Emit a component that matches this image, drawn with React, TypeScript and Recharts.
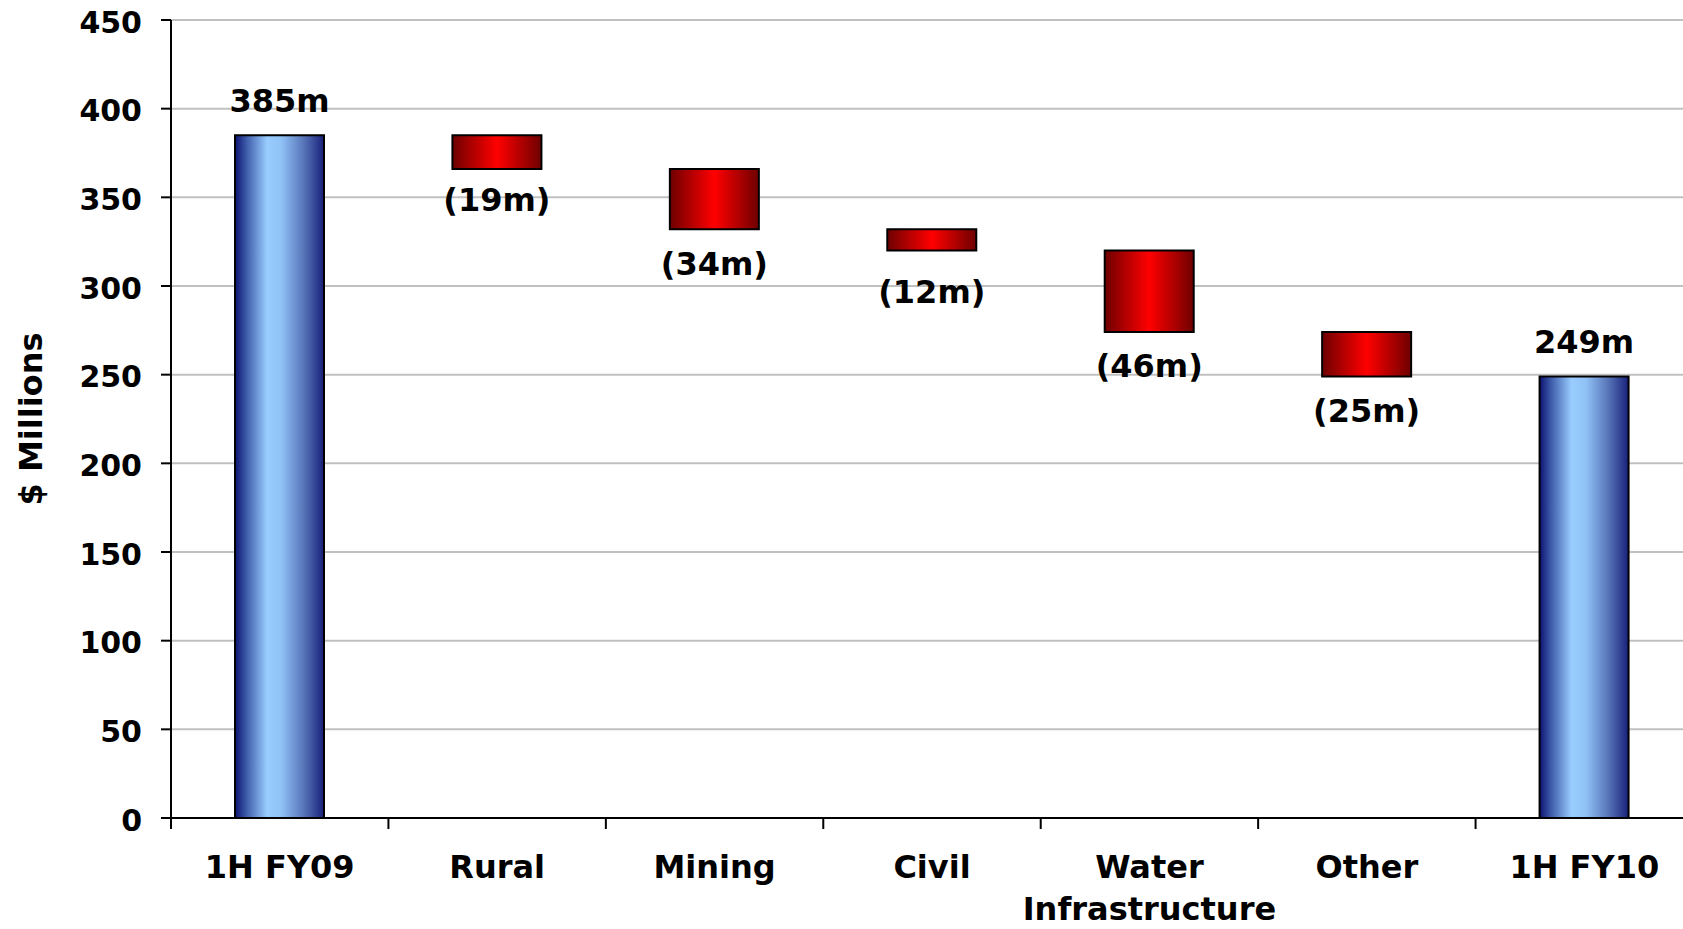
import React from 'react';
import { BarChart, Bar, XAxis, YAxis, CartesianGrid, LabelList, Cell, Label } from 'recharts';

// Revenue bridge, $ millions
const categories = ['1H FY09', 'Rural', 'Mining', 'Civil', 'Water\nInfrastructure', 'Other', '1H FY10'];
const openingTotal = 385;
const closingTotal = 249;
const segmentChanges = [-19, -34, -12, -46, -25]; // Rural, Mining, Civil, Water Infrastructure, Other
const yTicks = [0, 50, 100, 150, 200, 250, 300, 350, 400, 450];

// extra downward nudge (px) for each value label, by category
const labelNudge = [0, 0, 4, 10, 3, 4, 0];

type Row = { name: string; base: number; amount: number; kind: 'total' | 'change'; signed: number };

const rows: Row[] = [];
{
  let level = openingTotal;
  rows.push({ name: categories[0], base: 0, amount: openingTotal, kind: 'total', signed: openingTotal });
  segmentChanges.forEach((c, i) => {
    const next = level + c;
    rows.push({ name: categories[i + 1], base: Math.min(level, next), amount: Math.abs(c), kind: 'change', signed: c });
    level = next;
  });
  rows.push({ name: categories[categories.length - 1], base: 0, amount: closingTotal, kind: 'total', signed: closingTotal });
}

const FONT = '"DejaVu Sans", Verdana, sans-serif';
const CHART_W = 1720;
const CHART_H = 929;
const MARGIN = { top: 20, right: 27, bottom: 0, left: 0 };
const Y_AXIS_W = 171;
const X_AXIS_H = 111;
const BAND = (CHART_W - MARGIN.right - MARGIN.left - Y_AXIS_W) / categories.length;

const fmt = (r: Row) => (r.kind === 'total' ? `${r.signed}m` : `(${Math.abs(r.signed)}m)`);

const CategoryTick = (props: any) => {
  const { x, y, payload } = props;
  const lines = String(payload.value).split('\n');
  const edge = x - BAND / 2;
  return (
    <g>
      <line x1={edge} x2={edge} y1={y} y2={y + 11} stroke="#000" strokeWidth={2} />
      <text
        x={x}
        y={y + 60}
        textAnchor="middle"
        fontFamily={FONT}
        fontWeight="bold"
        fontSize={32}
        fill="#000"
      >
        {lines.map((l, i) => (
          <tspan key={i} x={x} dy={i === 0 ? 0 : 42}>
            {l}
          </tspan>
        ))}
      </text>
    </g>
  );
};

const ValueLabel = (props: any) => {
  const { x, y, width, height, index } = props;
  const r = rows[index];
  if (!r) return null;
  const cx = x + width / 2;
  const ty = r.kind === 'total' ? y - 23 : y + height + 42 + (labelNudge[index] || 0);
  return (
    <text x={cx} y={ty} textAnchor="middle" fontFamily={FONT} fontWeight="bold" fontSize={32} fill="#000">
      {fmt(r)}
    </text>
  );
};

export default function App() {
  return (
    <div
      style={{
        position: 'absolute',
        left: 0,
        top: 0,
        width: 1683,
        height: 929,
        overflow: 'hidden',
        background: '#fff',
      }}
    >
      <BarChart width={CHART_W} height={CHART_H} data={rows} margin={MARGIN}>
        <defs>
          <linearGradient id="totalFill" x1="0" y1="0" x2="1" y2="0">
            <stop offset="0%" stopColor="#0c1270" />
            <stop offset="12%" stopColor="#3a57a6" />
            <stop offset="36%" stopColor="#99ccff" />
            <stop offset="52%" stopColor="#90c2f6" />
            <stop offset="78%" stopColor="#5572b6" />
            <stop offset="100%" stopColor="#18207a" />
          </linearGradient>
          <linearGradient id="changeFill" x1="0" y1="0" x2="1" y2="0">
            <stop offset="0%" stopColor="#6e0000" />
            <stop offset="50%" stopColor="#ff0000" />
            <stop offset="100%" stopColor="#6e0000" />
          </linearGradient>
        </defs>
        <CartesianGrid vertical={false} stroke="#c0c0c0" strokeWidth={2} />
        <XAxis
          dataKey="name"
          height={X_AXIS_H}
          interval={0}
          tickSize={0}
          tickMargin={0}
          tickLine={false}
          axisLine={{ stroke: '#000', strokeWidth: 2 }}
          tick={<CategoryTick />}
        />
        <YAxis
          width={Y_AXIS_W}
          domain={[0, 450]}
          ticks={yTicks}
          interval={0}
          tickSize={10}
          tickMargin={19}
          axisLine={{ stroke: '#000', strokeWidth: 2 }}
          tickLine={{ stroke: '#000', strokeWidth: 2 }}
          tick={{ fill: '#000', fontSize: 30, fontWeight: 'bold', fontFamily: FONT, dy: 2 }}
        >
          <Label
            value="$ Millions"
            angle={-90}
            position="insideLeft"
            offset={31}
            style={{ textAnchor: 'middle', fontSize: 32, fontWeight: 'bold', fontFamily: FONT, fill: '#000' }}
          />
        </YAxis>
        <Bar dataKey="base" stackId="w" fill="none" barSize={89} isAnimationActive={false} />
        <Bar dataKey="amount" stackId="w" barSize={89} stroke="#000" strokeWidth={2} isAnimationActive={false}>
          {rows.map((r, i) => (
            <Cell key={i} fill={r.kind === 'total' ? 'url(#totalFill)' : 'url(#changeFill)'} />
          ))}
          <LabelList dataKey="amount" content={<ValueLabel />} />
        </Bar>
      </BarChart>
    </div>
  );
}
